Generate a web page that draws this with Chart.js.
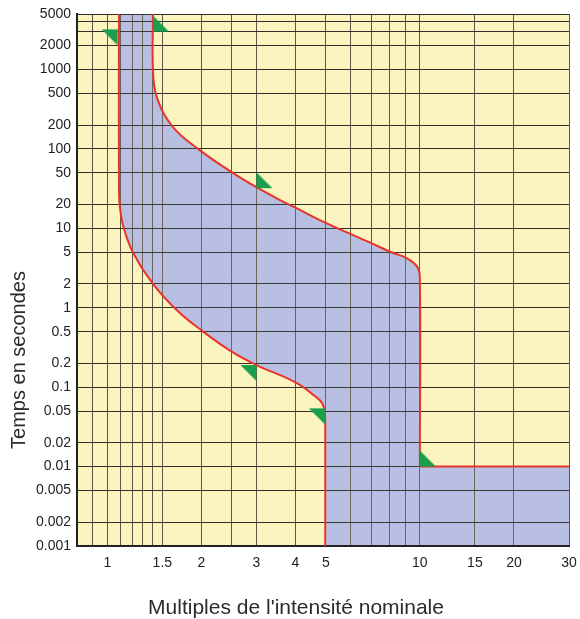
<!DOCTYPE html>
<html><head><meta charset="utf-8">
<script src="https://cdn.jsdelivr.net/npm/chart.js@4.4.1/dist/chart.umd.min.js"></script>
<style>html,body{margin:0;padding:0;background:#fff;}canvas{display:block;}</style>
</head><body>
<canvas id="c" width="580" height="619"></canvas>
<script>
// ---- data ----
const xTicks = [0.9, 1, 1.1, 1.2, 1.3, 1.4, 1.5, 2, 2.5, 3, 4, 5, 6, 7, 8, 9, 10, 15, 20, 30];
const xLabels = [1, 1.5, 2, 3, 4, 5, 10, 15, 20, 30];
const yTicks = [0.001, 0.002, 0.005, 0.01, 0.02, 0.05, 0.1, 0.2, 0.5, 1, 2, 5, 10, 20, 50, 100, 200, 500, 1000, 2000, 3000, 4000, 5000];
const yLabels = [0.001, 0.002, 0.005, 0.01, 0.02, 0.05, 0.1, 0.2, 0.5, 1, 2, 5, 10, 20, 50, 100, 200, 500, 1000, 2000, 5000];

// lower (non-tripping) boundary
const lowerX = [1.09, 1.09, 1.10, 1.13, 1.21, 1.40, 1.67, 2.0, 2.5, 3.0, 4.0, 4.6, 4.88, 4.97, 4.98, 4.98];
const lowerT = [5000, 30, 17, 10, 4.9, 2.0, 0.93, 0.52, 0.28, 0.19, 0.115, 0.078, 0.062, 0.045, 0.035, 0.001];
// upper (tripping) boundary
const upperX = [1.40, 1.40, 1.44, 1.62, 1.98, 2.52, 3.0, 3.57, 4.0, 5.0, 6.0, 7.0, 8.1, 9.1, 9.8, 10, 10];
const upperT = [5000, 1000, 450, 190, 96, 50, 33, 22.7, 18.2, 11.7, 8.5, 6.5, 5.0, 4.2, 3.3, 2.4, 0.01];
// instantaneous trip
const instX = [10, 30];
const instT = [0.01, 0.01];
// green flags
const markX = [1.08, 1.4, 3, 3, 4.97, 10];
const markT = [3200, 3000, 32, 0.19, 0.054, 0.01];
const markDir = ['down', 'up', 'up', 'down', 'down', 'up'];

const xTitle = "Multiples de l'intensité nominale";
const yTitle = "Temps en secondes";

// ---- styles ----
const YELLOW = 'rgb(252,244,190)';
const BLUE = 'rgb(184,191,226)';
const RED = 'rgb(232,52,42)';
const GREEN = 'rgb(24,158,76)';
const FONT = '"Liberation Sans", Arial, Helvetica, sans-serif';

const pts = (xs, ys) => xs.map((v, i) => ({x: v, y: ys[i]}));

function makeFlag(color) {
  const c = document.createElement('canvas');
  c.width = 34; c.height = 34;
  const g = c.getContext('2d');
  g.fillStyle = color;
  g.beginPath(); g.moveTo(17, 17); g.lineTo(17, 1); g.lineTo(33, 17); g.closePath(); g.fill();
  return c;
}
const flag = makeFlag(GREEN);

const bgPlugin = {
  id: 'bg',
  beforeDraw(chart) {
    const {ctx, chartArea: a} = chart;
    ctx.save(); ctx.fillStyle = YELLOW; ctx.fillRect(a.left, a.top, a.width, a.height); ctx.restore();
  }
};

const bandFill = {
  id: 'bandFill',
  beforeDatasetsDraw(chart) {
    const {ctx, chartArea: a} = chart;
    const x = chart.scales.x, y = chart.scales.y;
    const lo = chart.getDatasetMeta(1).dataset;
    const up = chart.getDatasetMeta(2).dataset;
    const fl = chart.getDatasetMeta(3).dataset;
    [lo, up, fl].forEach(el => el.updateControlPoints(a, 'x'));
    ctx.save();
    ctx.beginPath(); ctx.rect(a.left, a.top, a.width, a.height); ctx.clip();
    ctx.beginPath();
    lo.pathSegment(ctx, lo.segments[0], {move: true});
    ctx.lineTo(x.getPixelForValue(x.max), y.getPixelForValue(y.min));
    fl.pathSegment(ctx, fl.segments[0], {move: false, reverse: true});
    up.pathSegment(ctx, up.segments[0], {move: false, reverse: true});
    ctx.closePath();
    ctx.fillStyle = BLUE;
    ctx.fill();
    ctx.restore();
    x.drawGrid(a); y.drawGrid(a);
    if (x.drawBorder) { x.drawBorder(); y.drawBorder(); }
  }
};

const titles = {
  id: 'titles',
  afterDraw(chart) {
    const ctx = chart.ctx;
    ctx.save();
    ctx.fillStyle = '#2b2b2b';
    ctx.textAlign = 'center';
    ctx.textBaseline = 'alphabetic';
    ctx.font = '21px ' + FONT;
    ctx.fillText(xTitle, 296, 614);
    ctx.translate(25, 360);
    ctx.rotate(-Math.PI / 2);
    ctx.font = '20px ' + FONT;
    ctx.fillText(yTitle, 0, 0);
    ctx.restore();
  }
};

new Chart(document.getElementById('c'), {
  type: 'scatter',
  data: {
    datasets: [
      {
        data: pts(markX, markT),
        pointStyle: flag,
        pointRadius: 8,
        pointRotation: markDir.map(d => d === 'down' ? 180 : 0),
        showLine: false
      },
      { data: pts(lowerX, lowerT), showLine: true, borderColor: RED, borderWidth: 2, pointRadius: 0, tension: 0.4, fill: false },
      { data: pts(upperX, upperT), showLine: true, borderColor: RED, borderWidth: 2, pointRadius: 0, tension: 0.4, fill: false },
      { data: pts(instX, instT), showLine: true, borderColor: RED, borderWidth: 2, pointRadius: 0, tension: 0, fill: false }
    ]
  },
  options: {
    responsive: false,
    animation: false,
    devicePixelRatio: 1,
    layout: { padding: { left: 0, top: 14, right: 11, bottom: 0 } },
    plugins: { legend: { display: false }, tooltip: { enabled: false } },
    scales: {
      x: {
        type: 'logarithmic',
        min: 0.8, max: 30,
        bounds: 'data',
        afterBuildTicks: s => { s.ticks = xTicks.map(v => ({value: v})); },
        afterFit: s => { s.height = 73; s.paddingLeft = 0; s.paddingRight = 0; },
        ticks: {
          autoSkip: false, maxRotation: 0, minRotation: 0, padding: 9,
          color: '#222', font: { family: FONT, size: 14 },
          callback: v => xLabels.includes(v) ? String(v) : ''
        },
        grid: { color: 'rgba(90,80,60,0.8)', lineWidth: 1, drawTicks: false },
        border: { display: true, color: '#222', width: 2 }
      },
      y: {
        type: 'logarithmic',
        min: 0.001, max: 5000,
        bounds: 'data',
        afterBuildTicks: s => { s.ticks = yTicks.map(v => ({value: v})); },
        afterFit: s => { s.width = 77; s.paddingTop = 0; s.paddingBottom = 0; },
        ticks: {
          autoSkip: false, padding: 6,
          color: '#222', font: { family: FONT, size: 14 },
          callback: v => yLabels.includes(v) ? String(v) : ''
        },
        grid: { color: 'rgba(45,42,38,0.9)', lineWidth: 1, drawTicks: false },
        border: { display: true, color: '#222', width: 2 }
      }
    }
  },
  plugins: [bgPlugin, bandFill, titles]
});
</script>
</body></html>
